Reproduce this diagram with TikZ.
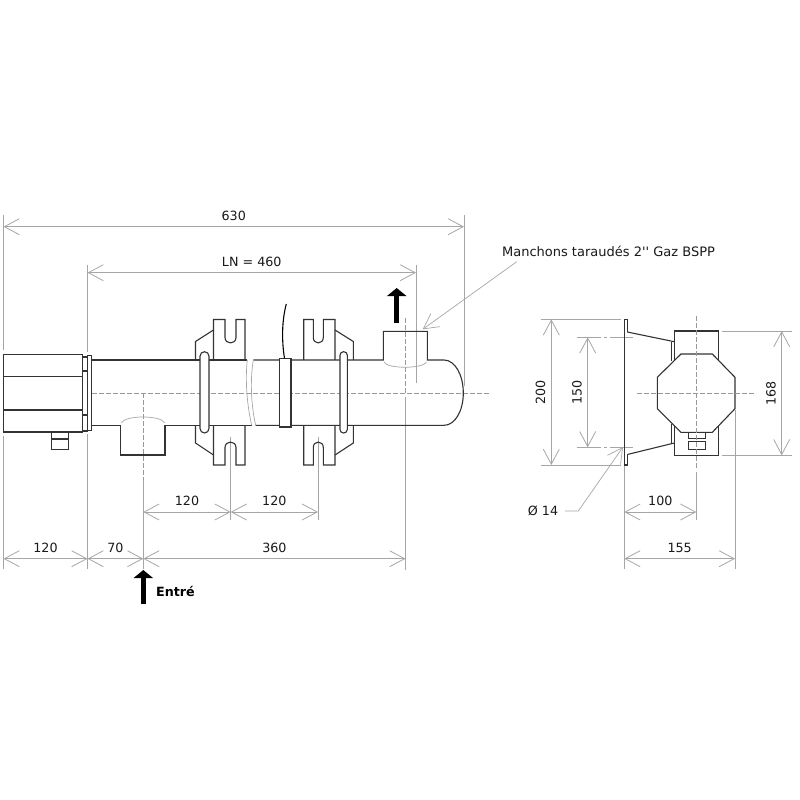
\documentclass[tikz,border=0pt]{standalone}
\usepackage{fontspec}
\setmainfont[Ligatures=TeXOff]{DejaVu Sans}
\usetikzlibrary{arrows.meta, positioning}

\begin{document}
\begin{tikzpicture}[
      x=1pt, y=-1pt,
      part/.style={draw=black!80, line width=1.1pt, line join=miter},
      band/.style={part, fill=white},
      hidden/.style={draw=black!35, line width=0.7pt},
      axis/.style={draw=black!40, line width=0.6pt, dash pattern=on 5pt off 2pt},
      axismix/.style={draw=black!35, line width=0.6pt, dash pattern=on 24pt off 3pt on 3pt off 3pt},
      ext/.style={draw=black!35, line width=0.8pt},
      dimline/.style={draw=black!35, line width=0.8pt, {Straight Barb[length=15pt, width=16pt]}-{Straight Barb[length=15pt, width=16pt]}},
      leader/.style={draw=black!35, line width=0.7pt, -{Straight Barb[length=15pt, width=16pt]}},
      flow/.style={draw=black, line width=5pt, -{Triangle[width=19pt, length=8pt]}},
      lab/.style={font=\fontsize{12.7}{15}\selectfont, text=black!90, inner sep=0pt, outer sep=0pt},
      dimtop/.style={lab, above=6pt},
      dimleft/.style={lab, rotate=90, anchor=south, yshift=6pt}]

      \useasboundingbox (0,0) rectangle (800,800);

      % extension lines
      \draw[ext] (3.5,215) -- (3.5,350);
      \draw[ext] (3.5,436) -- (3.5,569);
      \draw[ext] (87.5,265) -- (87.5,352);
      \draw[ext] (87.5,434) -- (87.5,569);
      \draw[ext] (464,215) -- (464,386);
      \draw[ext] (416,265) -- (416,383);
      \draw[ext] (143.3,480) -- (143.3,569);
      \draw[ext] (230.7,437) -- (230.7,520);
      \draw[ext] (318,437) -- (318,520);
      \draw[ext] (405.5,397) -- (405.5,570);
      \draw[ext] (540.7,319.3) -- (621,319.3);
      \draw[ext] (540.7,465) -- (621,465);
      \draw[ext] (722,331) -- (792,331);
      \draw[ext] (722,455.3) -- (792,455.3);
      \draw[ext] (624.3,466) -- (624.3,569);
      \draw[ext] (735,410) -- (735,569);
      \draw[ext] (696.3,472) -- (696.3,520);

      % center lines
      \draw[axis] (92,393) -- (490,393);
      \draw[axis] (143.3,393) -- (143.3,480);
      \draw[axis] (405.5,318) -- (405.5,395);
      \draw[axismix] (576.7,337.3) -- (633,337.3);
      \draw[axismix] (576.7,447.3) -- (633,447.3);

      % tube and nozzles
      \draw[part] (91.7,360) -- (247.3,360);
      \draw[part] (253.3,360) -- (383.3,360) -- (383.3,331.3) -- (427.3,331.3) -- (427.3,360) -- (444,360) .. controls (455,360) and (463.3,375) .. (463.3,393) .. controls (463.3,411) and (455,425.3) .. (444,425.3) -- (255.7,425.3);
      \draw[part] (251.7,425.3) -- (165,425.3) -- (165,455) -- (120.7,455) -- (120.7,425.3) -- (91.7,425.3);
      \draw[hidden] (121.5,423) .. controls (124,415) and (162,415) .. (164.5,423);
      \draw[hidden] (384,362) .. controls (387,369) and (423,369) .. (426.5,362);
      \draw[hidden] (247.3,360) .. controls (245,380) and (247,405) .. (251.7,425.3);
      \draw[hidden] (253.3,360) .. controls (250,380) and (251,405) .. (255.7,425.3);

      % head
      \draw[part] (3.5,354.5) rectangle (82.7,432);
      \draw[part] (3.5,376.5) -- (82.7,376.5);
      \draw[part] (3.5,410) -- (82.7,410);
      \draw[part] (82.7,357) rectangle (87.3,431);
      \draw[part] (82.7,371) -- (87.3,371);
      \draw[part] (82.7,415) -- (87.3,415);
      \draw[part] (87.3,355.5) rectangle (91.7,430.5);
      \draw[part, line width=0.8pt] (51.7,432) rectangle (68.3,438.3);
      \draw[part, line width=0.8pt] (51.7,439.3) rectangle (68.3,449);

      % left support
      \draw[part] (213.5,360) -- (213.5,319.5) -- (225,319.5) -- (225,337.5) .. controls (225,344.7) and (236,344.7) .. (236,337.5) -- (236,319.5) -- (245,319.5) -- (245,360);
      \draw[part] (213.5,425.3) -- (213.5,465) -- (225,465) -- (225,447.5) .. controls (225,440.3) and (236,440.3) .. (236,447.5) -- (236,465) -- (245,465) -- (245,425.3);
      \draw[part] (213.5,330) -- (195.5,341.5) -- (195.5,360);
      \draw[part] (213.5,455) -- (195.5,443) -- (195.5,425.3);
      \draw[band, rounded corners=4.5pt] (200,351.7) rectangle (209,433);

      % right support
      \draw[part] (303.7,360) -- (303.7,319.5) -- (313.3,319.5) -- (313.3,337.5) .. controls (313.3,344.7) and (323.3,344.7) .. (323.3,337.5) -- (323.3,319.5) -- (335,319.5) -- (335,360);
      \draw[part] (303.7,425.3) -- (303.7,465) -- (313.3,465) -- (313.3,447.5) .. controls (313.3,440.3) and (323.3,440.3) .. (323.3,447.5) -- (323.3,465) -- (335,465) -- (335,425.3);
      \draw[part] (335,330) -- (353.3,341.5) -- (353.3,360);
      \draw[part] (335,455) -- (353.3,443) -- (353.3,425.3);
      \draw[band, rounded corners=3.5pt] (340,351.7) rectangle (347.3,433);

      % middle band and cable
      \draw[band] (279.3,358.3) rectangle (291,427);
      \draw[draw=black, line width=1.1pt] (284.5,358.3) .. controls (281.5,340) and (282,320) .. (286.3,304);

      % side view
      \draw[part] (627.3,332) -- (627.3,319.3) -- (624.3,319.3) -- (624.3,465) -- (627.3,465) -- (627.3,454.5);
      \draw[part] (627.3,332) -- (674.3,341.7);
      \draw[part] (627.3,454.5) -- (674.3,443);
      \draw[part, fill=white] (674.3,331) rectangle (718.5,455.3);
      \draw[part, line width=0.8pt] (671.7,341.7) -- (671.7,361);
      \draw[part, line width=0.8pt] (671.7,424) -- (671.7,443);
      \draw[part, fill=white] (681,354) -- (712.3,354) -- (735,377.3) -- (735,408.7) -- (712.3,432.3) -- (681,432.3) -- (657.3,408.7) -- (657.3,377.3) -- cycle;
      \draw[part, line width=0.8pt] (688.3,432.3) rectangle (705.7,438);
      \draw[part, line width=0.8pt] (688.3,441) rectangle (705.7,449);
      \draw[axis] (696.3,316) -- (696.3,470);
      \draw[axis] (637,393) -- (756,393);

      % dimensions
      \coordinate (a0) at (3.5,226.7);
      \coordinate (a1) at (464,226.7);
      \coordinate (b0) at (87.5,272.7);
      \coordinate (b1) at (416,272.7);
      \coordinate (c0) at (143.3,512);
      \coordinate (c1) at (230.7,512);
      \coordinate (c2) at (318,512);
      \coordinate (d0) at (3.5,558.7);
      \coordinate (d1) at (87.5,558.7);
      \coordinate (d2) at (143.3,558.7);
      \coordinate (d3) at (405.5,558.7);
      \coordinate (e0) at (624.3,512);
      \coordinate (e1) at (696.3,512);
      \coordinate (f0) at (624.3,558.7);
      \coordinate (f1) at (735,558.7);
      \coordinate (g0) at (551.3,319.3);
      \coordinate (g1) at (551.3,465);
      \coordinate (h0) at (587.7,337.3);
      \coordinate (h1) at (587.7,447.3);
      \coordinate (i0) at (781.7,331);
      \coordinate (i1) at (781.7,455.3);

      \draw[dimline] (a0) -- (a1) node[midway, dimtop] (lab630) {630};
      \draw[dimline] (b0) -- (b1) node[midway, dimtop] (labLN) {LN = 460};
      \draw[dimline] (c0) -- (c1) node[midway, dimtop] (labc1) {120};
      \draw[dimline] (c1) -- (c2) node[midway, dimtop] (labc2) {120};
      \draw[dimline] (d0) -- (d1) node[midway, dimtop] (labd1) {120};
      \draw[dimline] (d1) -- (d2) node[midway, dimtop] (labd2) {70};
      \draw[dimline] (d2) -- (d3) node[midway, dimtop] (labd3) {360};
      \draw[dimline] (e0) -- (e1) node[midway, dimtop] (lab100) {100};
      \draw[dimline] (f0) -- (f1) node[midway, dimtop] (lab155) {155};
      \draw[dimline] (g0) -- (g1) node[midway, dimleft] (lab200) {200};
      \draw[dimline] (h0) -- (h1) node[midway, dimleft] (lab150) {150};
      \draw[dimline] (i0) -- (i1) node[midway, dimleft] (lab168) {168};

      % notes
      \node[lab, font=\fontsize{13}{15}\selectfont] (manchons) at (608.5,251.7) {Manchons taraudés 2'' Gaz BSPP};
      \coordinate (manchonsend) at (422.7,329.3);
      \draw[leader] (516.7,261.7) -- (manchonsend);
      \node[lab] (trou) at (543,511) {Ø 14};
      \coordinate (trouend) at (623,447);
      \draw[leader] (565,511) -- (578.3,511) -- (trouend);

      % flow arrows
      \coordinate (outa) at (396.7,323);
      \coordinate (outb) at (396.7,288);
      \draw[flow] (outa) -- (outb);
      \coordinate (ina) at (143.3,604);
      \coordinate (inb) at (143.3,570);
      \draw[flow] (ina) -- (inb);
      \node[lab, font=\fontsize{12.7}{15}\selectfont\bfseries, text=black] (entre) at (175.5,591.7) {Entré};
\end{tikzpicture}
\end{document}
